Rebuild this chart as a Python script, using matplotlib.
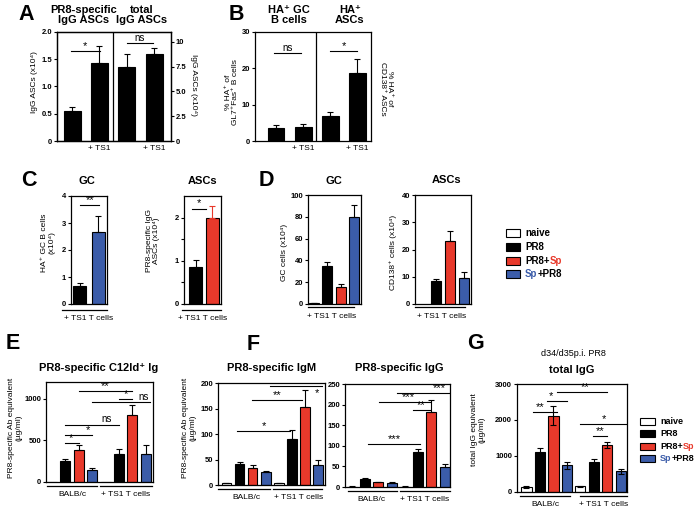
import numpy as np
import matplotlib.pyplot as plt
from matplotlib.patches import Rectangle

W, H = 696, 511
RED = "#e8392b"
BLUE = "#3b5ca9"
GROUP_COLORS = ["white", "black", RED, BLUE]

plt.rcParams["font.family"] = ["Liberation Sans", "DejaVu Sans"]

# --- data ---
a_pr8 = [0.55, 1.43]
a_pr8_err = [0.08, 0.31]
a_total = [7.5, 8.8]
a_total_err = [1.25, 0.55]

b_gc = [3.7, 3.9]
b_gc_err = [0.6, 0.7]
b_asc = [7.0, 18.8]
b_asc_err = [1.1, 3.7]

c_gc = [0.65, 2.67]
c_gc_err = [0.11, 0.6]
c_asc = [0.85, 2.0]
c_asc_err = [0.17, 0.27]

d_groups = ["naive", "PR8", "PR8+Sp", "Sp+PR8"]
d_gc = [0.5, 35.3, 15.8, 79.5]
d_gc_err = [0.3, 3.0, 2.2, 11.5]
d_asc = [0.0, 8.5, 23.3, 9.7]
d_asc_err = [0.0, 0.7, 3.5, 1.9]

e_c12 = [0, 250, 385, 140, 0, 340, 810, 335]
e_c12_err = [0, 25, 55, 25, 0, 60, 120, 110]

f_igm = [3, 42, 34, 25, 3, 90, 152, 40]
f_igm_err = [0.5, 3, 5, 3, 0.5, 17, 35, 9]
f_igg = [1, 19, 11, 10.5, 1, 84, 183, 49]
f_igg_err = [0.3, 2.5, 2, 1.5, 0.3, 8, 29, 6]

g_total = [140, 1100, 2120, 740, 160, 830, 1300, 570]
g_total_err = [20, 110, 260, 100, 15, 90, 90, 70]

TITLE = dict(fontsize=8, fontweight="bold")
LETTER = dict(fontsize=15.5, fontweight="bold")

fig = plt.figure(figsize=(W / 100, H / 100), dpi=100)


def px_axes(l, t, r, b):
    return fig.add_axes([l / W, 1 - b / H, (r - l) / W, (b - t) / H])


def ftext(x, y, s, **kw):
    kw.setdefault("ha", "center")
    kw.setdefault("va", "center")
    return fig.text(x / W, 1 - y / H, s, **kw)


def style(ax, ticks, labels=None):
    for sp in ax.spines.values():
        sp.set_linewidth(0.9)
    ax.set_xticks([])
    if labels is None:
        labels = [f"{t:g}" for t in ticks]
    ax.set_yticks(ticks, labels, fontweight="bold", fontsize=5.5)
    ax.tick_params(direction="out", length=2.5, width=0.8, pad=1)


def bars(ax, x, vals, err, colors, width, both=False, ecolor="black"):
    x = np.asarray(x, float)
    vals = np.asarray(vals, float)
    err = np.asarray(err, float)
    ax.bar(x, vals, width, color=colors, edgecolor="black", linewidth=0.8, zorder=2)
    m = err > 0
    lo = err[m] if both else np.zeros(m.sum())
    ax.errorbar(x[m], vals[m], yerr=[lo, err[m]], fmt="none", ecolor=ecolor,
                elinewidth=0.8, capsize=2.2, capthick=0.8, zorder=3)


def sig(ax, x0, x1, y, s, tx=None, va="bottom", dy=0):
    ax.plot([x0, x1], [y, y], color="black", lw=0.8, clip_on=False, zorder=4)
    if tx is None:
        tx = (x0 + x1) / 2
    fs = 7 if s == "ns" else 8
    ax.text(tx, y + dy, s, ha="center", va=va, fontsize=fs, clip_on=False)


def underline(ax, x0, x1, off=4):
    tr = ax.get_xaxis_transform()
    h = ax.get_position().height * H
    ax.plot([x0, x1], [-off / h, -off / h], color="black", lw=0.9,
            transform=tr, clip_on=False)


def under_text(ax, x, s, off=12):
    tr = ax.get_xaxis_transform()
    h = ax.get_position().height * H
    ax.text(x, -off / h, s, transform=tr, ha="center", va="center", fontsize=6)


# ---------------- A ----------------
ax = px_axes(57, 32, 171, 141)
ax.set_xlim(-0.55, 3.62)
ax.set_ylim(0, 2.0)
bars(ax, [0, 1], a_pr8, a_pr8_err, "black", 0.62)
ax.axvline(1.5, color="black", lw=0.9)
style(ax, [0, 0.5, 1.0, 1.5, 2.0], ["0", "0.5", "1.0", "1.5", "2.0"])
sig(ax, -0.05, 1.02, 1.65, "*")
sig(ax, 2.0, 2.95, 1.80, "ns")
ax2 = ax.twinx()
ax2.set_ylim(0, 11)
bars(ax2, [2, 3], a_total, a_total_err, "black", 0.62)
style(ax2, [0, 2.5, 5.0, 7.5, 10], ["0", "2.5", "5.0", "7.5", "10"])
for xx in [1, 3]:
    under_text(ax, xx, "+ TS1", off=7)
ftext(26, 14, "A", **LETTER)
ftext(84, 15, "PR8-specific\nIgG ASCs", linespacing=1.1, **TITLE)
ftext(142, 15, "total\nIgG ASCs", linespacing=1.1, **TITLE)
ftext(35, 82, "IgG ASCs (x10⁴)", fontsize=6, rotation=90)
ftext(193, 85, "IgG ASCs (x10⁴)", fontsize=6, rotation=270)

# ---------------- B ----------------
ax = px_axes(255, 32, 371, 141)
ax.set_xlim(-0.78, 3.51)
ax.set_ylim(0, 30)
bars(ax, [0, 1], b_gc, b_gc_err, "black", 0.62)
bars(ax, [2, 3], b_asc, b_asc_err, "black", 0.62)
ax.axvline(1.47, color="black", lw=0.9)
style(ax, [0, 10, 20, 30])
sig(ax, -0.08, 0.92, 24.2, "ns")
sig(ax, 2.0, 3.0, 24.7, "*")
for xx in [1, 3]:
    under_text(ax, xx, "+ TS1", off=7)
ftext(236, 14, "B", **LETTER)
ftext(289, 15, "HA⁺ GC\nB cells", linespacing=1.1, **TITLE)
ftext(350, 15, "HA⁺\nASCs", linespacing=1.1, **TITLE)
ftext(232, 92, "% HA⁺ of\nGL7⁺Fas⁺ B cells", fontsize=6, rotation=90, linespacing=1.1)
ftext(386, 89, "% HA⁺ of\nCD138⁺ ASCs", fontsize=6, rotation=270, linespacing=1.1)

# ---------------- C ----------------
ax = px_axes(71, 196, 107, 304)
ax.set_xlim(-0.46, 1.46)
ax.set_ylim(0, 4)
bars(ax, [0, 1], c_gc, c_gc_err, ["black", BLUE], 0.68)
style(ax, [0, 1, 2, 3, 4])
sig(ax, 0.03, 1.04, 3.66, "**")
underline(ax, -0.95, 1.46, off=6)
under_text(ax, 0.5, "+ TS1 T cells", off=14)
ftext(29, 181, "C", **LETTER)
ftext(87, 181, "GC", **TITLE)
ftext(48, 243, "HA⁺ GC B cells\n(x10⁴)", fontsize=6, rotation=90, linespacing=1.1)

ax = px_axes(184, 196, 221, 304)
ax.set_xlim(-0.73, 1.53)
ax.set_ylim(0, 2.5)
ax.bar([0, 1], c_asc, 0.8, color=["black", RED], edgecolor="black", linewidth=0.8, zorder=2)
ax.errorbar([0], c_asc[:1], yerr=[[0], c_asc_err[:1]], fmt="none", ecolor="black",
            elinewidth=0.8, capsize=2.2, capthick=0.8, zorder=3)
ax.errorbar([1], c_asc[1:], yerr=[[0], c_asc_err[1:]], fmt="none", ecolor=RED,
            elinewidth=0.8, capsize=2.2, capthick=0.8, zorder=3)
style(ax, [0, 1, 2])
ax.set_yticks([0.5, 1.5], minor=True)
ax.tick_params(which="minor", direction="out", length=2.5, width=0.8)
sig(ax, -0.27, 0.62, 2.21, "*")
underline(ax, -0.85, 1.53, off=6)
under_text(ax, 0.4, "+ TS1 T cells", off=14)
ftext(203, 181, "ASCs", **TITLE)
ftext(153, 241, "PR8-specific IgG\nASCs (x10⁴)", fontsize=6, rotation=90, linespacing=1.1)

# ---------------- D ----------------
ax = px_axes(308, 195, 361, 304)
ax.set_xlim(-0.45, 3.53)
ax.set_ylim(0, 100)
bars(ax, range(4), d_gc, d_gc_err, GROUP_COLORS, 0.75)
style(ax, [0, 20, 40, 60, 80, 100])
underline(ax, -0.45, 3.0, off=3)
under_text(ax, 1.35, "+ TS1 T cells", off=12)
ftext(266, 180, "D", **LETTER)
ftext(334, 181, "GC", **TITLE)
ftext(284, 252, "GC cells (x10⁴)", fontsize=6, rotation=90)

ax = px_axes(415, 195, 471, 304)
ax.set_xlim(-0.5, 3.5)
ax.set_ylim(0, 40)
bars(ax, range(1, 4), d_asc[1:], d_asc_err[1:], GROUP_COLORS[1:], 0.75)
style(ax, [0, 10, 20, 30, 40])
underline(ax, -0.5, 3.05, off=3)
under_text(ax, 1.4, "+ TS1 T cells", off=12)
ftext(447, 180, "ASCs", **TITLE)
ftext(393, 252, "CD138⁺ cells (x10⁴)", fontsize=6, rotation=90)


# ---------------- legends ----------------
def legend(x, y0, dy, bw, bh, fs):
    r = fig.canvas.get_renderer()
    rows = [[("naive", "black")], [("PR8", "black")],
            [("PR8+", "black"), ("Sp", RED)], [("Sp", BLUE), ("+PR8", "black")]]
    for i, (col, parts) in enumerate(zip(GROUP_COLORS, rows)):
        y = y0 + i * dy
        fig.add_artist(Rectangle((x / W, 1 - (y + bh / 2) / H), bw / W, bh / H,
                                 facecolor=col, edgecolor="black", lw=0.8,
                                 transform=fig.transFigure))
        tx = x + bw + 5
        for s, c in parts:
            t = ftext(tx, y, s, ha="left", color=c, fontsize=fs, fontweight="bold")
            tx += t.get_window_extent(renderer=r).width


legend(506, 233, 13.8, 14, 8, 7)
legend(640, 421.5, 12.3, 15, 7, 6.5)

# ---------------- E ----------------
x8 = np.arange(8)
cols8 = GROUP_COLORS * 2

ax = px_axes(46, 382, 153, 482)
ax.set_xlim(-0.45, 7.55)
ax.set_ylim(0, 1200)
bars(ax, x8, e_c12, e_c12_err, cols8, 0.75)
style(ax, [0, 500, 1000])
sig(ax, 2, 6, 1091, "**")
sig(ax, 5, 6, 993, "*")
sig(ax, 3, 7.3, 956, "ns", tx=6.85, dy=10)
sig(ax, 1, 5, 690, "ns", tx=4.07)
sig(ax, 1, 3, 562, "*", tx=2.7)
sig(ax, 1, 2, 464, "*", tx=1.4)
underline(ax, -0.4, 3.33)
underline(ax, 3.57, 7.45)
under_text(ax, 1.5, "BALB/c")
under_text(ax, 5.5, "+ TS1 T cells")
ftext(13, 343, "E", **LETTER)
ftext(99, 368, "PR8-specific C12Id⁺ Ig", **TITLE)
ftext(15, 428, "PR8-specific Ab equivalent\n(µg/ml)", fontsize=6, rotation=90, linespacing=1.1)

# ---------------- F ----------------
ax = px_axes(218, 383, 325, 485)
ax.set_xlim(-0.65, 7.55)
ax.set_ylim(0, 200)
bars(ax, x8, f_igm, f_igm_err, cols8, 0.75)
style(ax, [0, 50, 100, 150, 200])
sig(ax, 0.8, 4.9, 106, "*")
sig(ax, 1.95, 5.75, 166, "**")
sig(ax, 3.3, 7.3, 193.5, "*", tx=6.96, va="top", dy=-3)
underline(ax, -0.65, 3.33)
underline(ax, 3.57, 7.35)
under_text(ax, 1.5, "BALB/c")
under_text(ax, 5.5, "+ TS1 T cells")
ftext(253, 344, "F", **LETTER)
ftext(272, 368, "PR8-specific IgM", **TITLE)
ftext(189, 428, "PR8-specific Ab equivalent\n(µg/ml)", fontsize=6, rotation=90, linespacing=1.1)

ax = px_axes(345, 384, 450, 487)
ax.set_xlim(-0.5, 7.4)
ax.set_ylim(0, 250)
bars(ax, x8, f_igg, f_igg_err, cols8, 0.75)
style(ax, [0, 50, 100, 150, 200, 250])
sig(ax, 1.25, 5.13, 104.5, "***")
sig(ax, 4.6, 5.9, 187, "**")
sig(ax, 2.07, 5.9, 207, "***", tx=4.26)
sig(ax, 3.4, 7.3, 227.5, "***", tx=6.6)
underline(ax, -0.25, 3.38)
underline(ax, 3.63, 7.4)
under_text(ax, 1.5, "BALB/c")
under_text(ax, 5.5, "+ TS1 T cells")
ftext(399, 368, "PR8-specific IgG", **TITLE)

# ---------------- G ----------------
ax = px_axes(517, 384, 627, 492)
ax.set_xlim(-0.7, 7.45)
ax.set_ylim(0, 3000)
bars(ax, x8, g_total, g_total_err, cols8, 0.75, both=True)
style(ax, [0, 1000, 2000, 3000])
sig(ax, 0.5, 2.23, 2216, "**", tx=1.04)
sig(ax, 1.53, 3.02, 2539, "*", tx=1.78)
sig(ax, 2.23, 5.99, 2770, "**", tx=4.33)
sig(ax, 4.0, 7.4, 1884, "*", tx=5.74)
sig(ax, 4.9, 5.99, 1560, "**", tx=5.45)
underline(ax, -0.5, 3.23)
underline(ax, 4.0, 7.46)
under_text(ax, 1.4, "BALB/c", off=13)
under_text(ax, 5.7, "+ TS1 T cells", off=13)
ftext(476, 343, "G", **LETTER)
ftext(573, 353, "d34/d35p.i. PR8", fontsize=6.5)
ftext(572, 370, "total IgG", **TITLE)
ftext(478, 430, "total IgG equivalent\n(µg/ml)", fontsize=6, rotation=90, linespacing=1.1)

fig.savefig("out.png", dpi=100)
